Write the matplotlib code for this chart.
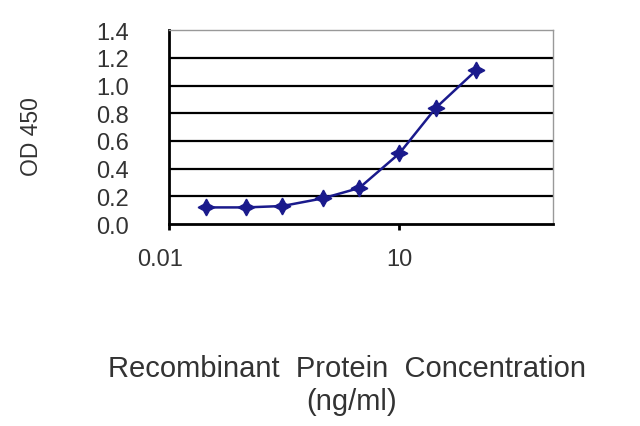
import matplotlib
matplotlib.use("Agg")
import matplotlib.pyplot as plt
import matplotlib.transforms as mtransforms

# Data
conc = [0.03, 0.1, 0.3, 1, 3, 10, 30, 100]
od450 = [0.12, 0.12, 0.13, 0.185, 0.26, 0.51, 0.84, 1.11]
yticks = [0.0, 0.2, 0.4, 0.6, 0.8, 1.0, 1.2, 1.4]
xticks = [0.01, 10]
xticklabels = ["0.01", "10"]

plt.rcParams['font.family'] = ['Liberation Sans', 'DejaVu Sans']

fig = plt.figure(figsize=(6.4, 4.27), dpi=100)
ax = fig.add_axes([0.264, 0.473, 0.600, 0.454])

line_col = '#1a1a8c'
text_col = '#333333'

ax.set_xscale('log')
ax.set_xlim(0.01, 1000)
ax.set_ylim(0, 1.4)

# horizontal grid
for y in yticks[1:-1]:
    ax.axhline(y, color='black', lw=1.6, zorder=1)

ax.plot(conc, od450, color=line_col, lw=1.8, marker=(4, 1, 0),
        markersize=12, markerfacecolor=line_col, markeredgecolor=line_col, zorder=3)

ax.set_yticks(yticks)
ax.set_yticklabels([f"{v:.1f}" for v in yticks], fontsize=17, color=text_col)
ax.tick_params(axis='y', length=0, pad=29)

ax.set_xticks(xticks)
ax.set_xticklabels(xticklabels, fontsize=17, color=text_col)
ax.xaxis.set_minor_locator(matplotlib.ticker.NullLocator())
ax.tick_params(axis='x', length=4, width=2, direction='out', pad=13)

# Excel-style: first label sits a little left of the axis corner
lbl = ax.get_xticklabels()[0]
lbl.set_transform(lbl.get_transform() + mtransforms.ScaledTranslation(-9 / 100, 0, fig.dpi_scale_trans))

for s in ['left', 'bottom']:
    ax.spines[s].set_color('black')
    ax.spines[s].set_linewidth(2)
for s in ['top', 'right']:
    ax.spines[s].set_color('#999999')
    ax.spines[s].set_linewidth(1)

fig.text(31 / 640, 1 - 137 / 427, "OD 450", rotation=90, fontsize=16.5, color=text_col,
         ha='center', va='center')
fig.text(347 / 640, 1 - 369 / 427, "Recombinant  Protein  Concentration", fontsize=21,
         color=text_col, ha='center', va='center')
fig.text(352 / 640, 1 - 402 / 427, "(ng/ml)", fontsize=21,
         color=text_col, ha='center', va='center')

fig.savefig('out.png', dpi=100)
